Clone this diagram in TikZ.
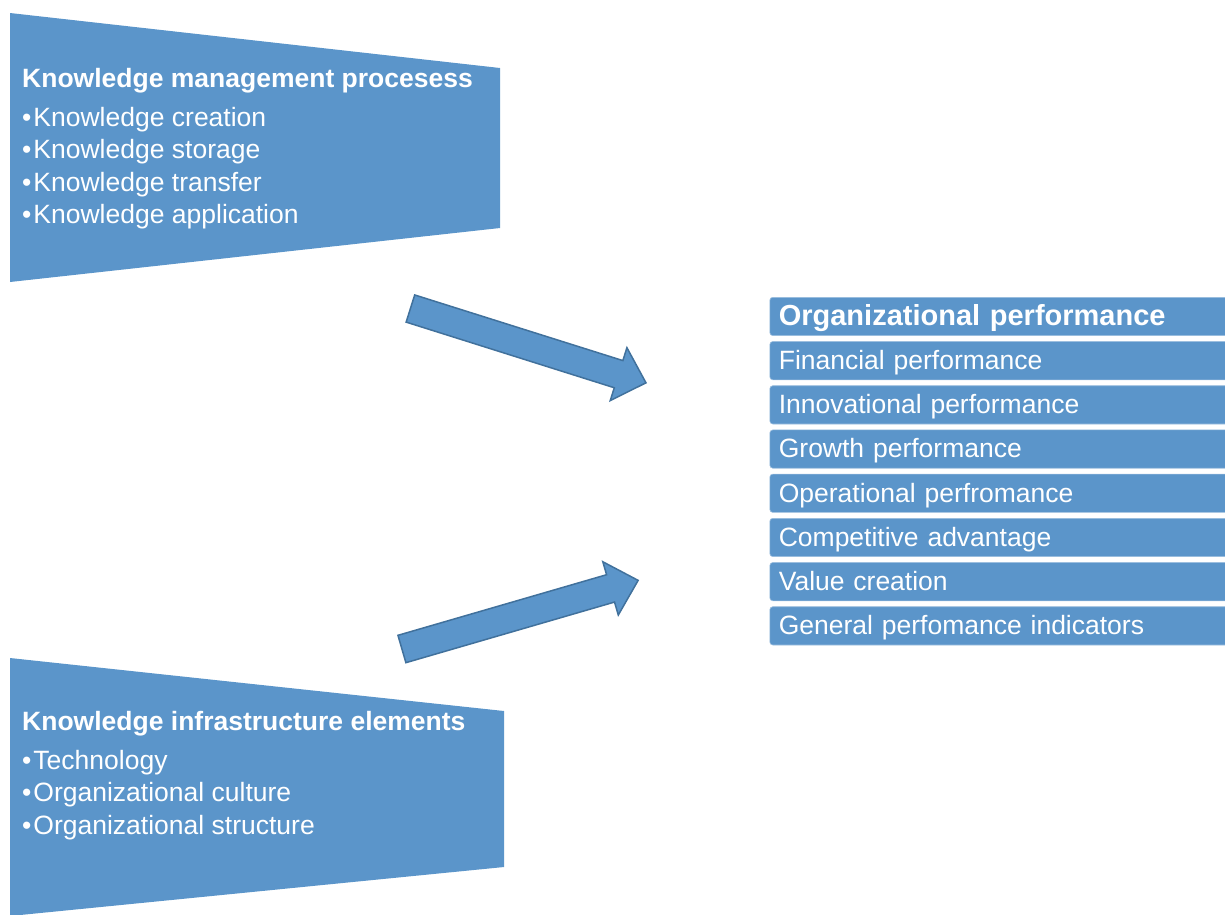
\documentclass[tikz,border=0pt]{standalone}
\usepackage{fontspec}
\setmainfont{Liberation Sans}
\usetikzlibrary{
	arrows.meta,
	calc,
	positioning,
	shapes.arrows,
	shapes.geometric
}
\definecolor{kmblue}{RGB}{91,149,202}
\definecolor{kmedge}{RGB}{65,113,156}

\begin{document}
\begin{tikzpicture}[x=1pt,y=-1pt,
	head/.style={anchor=base west, inner sep=0pt, text=white, font=\fontsize{26.5}{32}\selectfont\bfseries},
	item/.style={anchor=base west, inner sep=0pt, text=white, font=\fontsize{26.5}{32}\selectfont},
	pbox/.style={draw=kmblue!60!white, line width=0.6pt, fill=kmblue, rounded corners=3pt, anchor=north west,
		minimum width=470pt, minimum height=38.3pt, text width=452pt, inner xsep=9pt, inner ysep=0pt,
		text height=22pt, text depth=4.3pt, text=white, font=\fontsize{26.5}{32}\selectfont},
	blockarrow/.style={single arrow, draw=kmedge, line width=1.5pt, fill=kmblue, inner xsep=0pt, inner ysep=13.5pt,
		minimum width=54pt, single arrow head extend=13.5pt, single arrow tip angle=88, anchor=tail}
	]
	\def \lsep{32.4}
	\def \bstep{44.2}
	\clip (0,0) rectangle (1225,914);
	
	% Knowledge management processes
	\fill[kmblue] (10,13) -- (500,68) -- (500,228) -- (10,282) -- cycle;
	\node[head] (kmp) at (22,87) {Knowledge management procesess};
	\foreach \t [count=\i] in {Knowledge creation,Knowledge storage,Knowledge transfer,Knowledge application}
	\node[item] (kmp\i) at (22,94+\i*\lsep) {\textbullet\kern2pt\t};
	
	% Knowledge infrastructure
	\fill[kmblue] (10,658) -- (504,711) -- (504,867) -- (10,916) -- cycle;
	\node[head] (kie) at (22,730) {Knowledge infrastructure elements};
	\foreach \t [count=\i] in {Technology,Organizational culture,Organizational structure}
	\node[item] (kie\i) at (22,737+\i*\lsep) {\textbullet\kern2pt\t};
	
	% Organizational performance
	\node[pbox, font=\fontsize{29}{32}\selectfont\bfseries] (perf) at (769.5,297) {Organizational performance};
	\foreach \t [count=\i] in {Financial performance,Innovational performance,Growth performance,Operational perfromance,Competitive advantage,Value creation,General perfomance indicators}
	\node[pbox] (perf\i) at (769.5,297+\i*\bstep) {\t};
	
	% Arrows
	\node[blockarrow, rotate=-17.5, minimum height=247pt] (arrA) at (409.7,308.3) {};
	\node[blockarrow, rotate=16.2, minimum height=246pt] (arrB) at (401.2,649.2) {};
	
\end{tikzpicture}
\end{document}
